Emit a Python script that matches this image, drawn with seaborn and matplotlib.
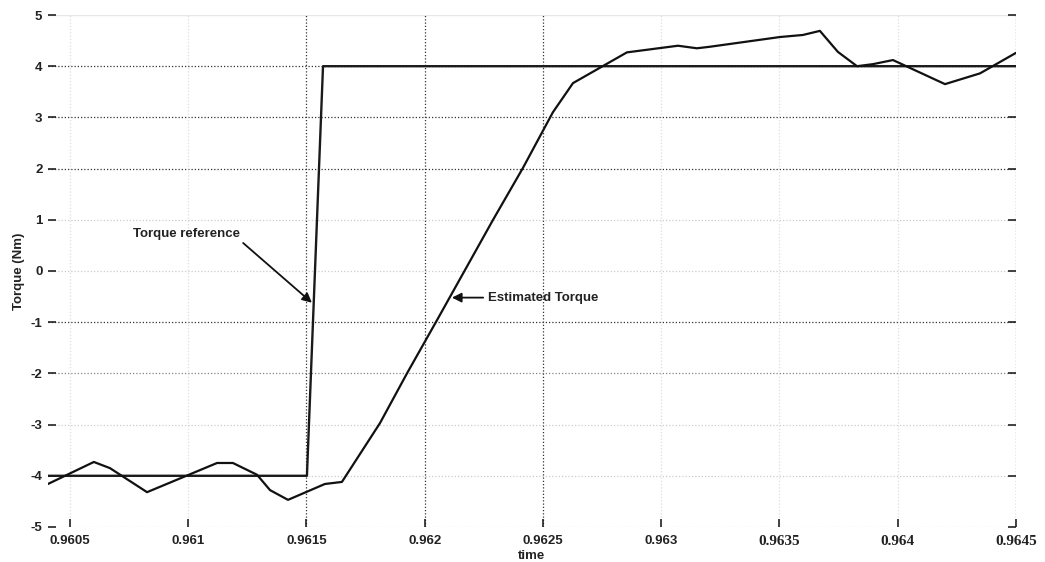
import numpy as np
import pandas as pd
import matplotlib
matplotlib.use("Agg")
import matplotlib.pyplot as plt
import seaborn as sns

# Estimated torque trace (time in s, torque in Nm)
est_time = [0.960407, 0.960601, 0.960669, 0.960826, 0.961122, 0.961189, 0.961291,
            0.961346, 0.961422, 0.961578, 0.961650, 0.961811, 0.961925, 0.962052,
            0.962289, 0.962415, 0.962542, 0.962627, 0.962855, 0.963071, 0.963151,
            0.963206, 0.963502, 0.963599, 0.963671, 0.963747, 0.963828, 0.963895,
            0.963980, 0.964200, 0.964348, 0.964500]
est_torque = [-4.16, -3.73, -3.85, -4.32, -3.75, -3.75, -3.98,
              -4.28, -4.47, -4.16, -4.12, -2.97, -2.00, -0.96,
              1.00, 2.01, 3.10, 3.67, 4.27, 4.40, 4.35,
              4.38, 4.57, 4.61, 4.69, 4.28, 4.00, 4.04,
              4.12, 3.65, 3.86, 4.26]

# Torque reference step
ref_time = [0.960407, 0.961502, 0.961570, 0.964500]
ref_torque = [-4.0, -4.0, 4.0, 4.0]

x_ticks = [0.9605, 0.961, 0.9615, 0.962, 0.9625, 0.963, 0.9635, 0.964, 0.9645]
x_tick_labels = ["0.9605", "0.961", "0.9615", "0.962", "0.9625", "0.963", "0.9635", "0.964", "0.9645"]
y_ticks = [-5, -4, -3, -2, -1, 0, 1, 2, 3, 4, 5]

sns.set_theme(style="white")
plt.rcParams["font.family"] = ["Liberation Sans", "DejaVu Sans"]

fig = plt.figure(figsize=(10.45, 5.62), dpi=100)
ax = fig.add_axes([0.0459, 0.0623, 0.9263, 0.911])

est_df = pd.DataFrame({"time": est_time, "torque": est_torque})
ref_df = pd.DataFrame({"time": ref_time, "torque": ref_torque})

# Grid: dotted lines, some darker than others
dark_y = {4, 3, 2, -1}
mid_y = {-2}
for yv in y_ticks:
    if yv == 5:
        ax.axhline(yv, color="#e6e6e6", lw=1.0, zorder=0)
        continue
    if yv in dark_y:
        c, a = "#333333", 1.0
    elif yv in mid_y:
        c, a = "#666666", 0.8
    else:
        c, a = "#aaaaaa", 0.6
    ax.axhline(yv, color=c, alpha=a, lw=0.9, ls=(0, (1, 1.6)), zorder=0)

dark_x = {0.9615, 0.962, 0.9625, 0.9645}
for xv in x_ticks:
    if xv in dark_x:
        c, a = "#333333", 1.0
    else:
        c, a = "#c8c8c8", 0.6
    ax.axvline(xv, color=c, alpha=a, lw=0.9, ls=(0, (1, 1.6)), zorder=0)

sns.lineplot(data=ref_df, x="time", y="torque", ax=ax, color="#1a1a1a",
             lw=1.7, estimator=None, sort=False, zorder=3)
sns.lineplot(data=est_df, x="time", y="torque", ax=ax, color="#111111",
             lw=1.6, estimator=None, sort=False, zorder=4)

ax.set_xlim(0.960407, 0.9645)
ax.set_ylim(-5, 5)
for s in ax.spines.values():
    s.set_visible(False)

ax.set_xticks(x_ticks)
ax.set_xticklabels(x_tick_labels, fontweight="bold", fontsize=9.5, color="#222222")
for lbl in ax.get_xticklabels()[6:]:
    lbl.set_family(["Liberation Serif", "DejaVu Serif"])
    lbl.set_fontsize(11)
ax.set_yticks(y_ticks)
ax.set_yticklabels([str(v) for v in y_ticks], fontweight="bold", fontsize=9.5, color="#222222")
ax.tick_params(axis="both", direction="in", length=6, width=1.2, color="#222222",
               left=True, bottom=True, right=True, pad=4)
ax.tick_params(axis="x", pad=6)

ax.set_xlabel("time", fontweight="bold", fontsize=9.5, labelpad=1, color="#222222")
ax.set_ylabel("Torque (Nm)", fontweight="bold", fontsize=9.5, labelpad=4, color="#222222")

ax.annotate("Torque reference", xy=(0.961523, -0.62), xytext=(0.960766, 0.72),
            fontsize=9.5, fontweight="bold", color="#222222", ha="left", va="center",
            arrowprops=dict(arrowstyle="-|>", color="#111111", lw=1.3,
                            mutation_scale=14, shrinkA=0, shrinkB=0,
                            relpos=(1.0, 0.0)))
ax.annotate("Estimated Torque", xy=(0.962115, -0.52), xytext=(0.962267, -0.52),
            fontsize=9.5, fontweight="bold", color="#222222", ha="left", va="center",
            arrowprops=dict(arrowstyle="-|>", color="#111111", lw=1.3,
                            mutation_scale=14, shrinkA=1, shrinkB=0))

fig.savefig("out.png", dpi=100, facecolor="white")
